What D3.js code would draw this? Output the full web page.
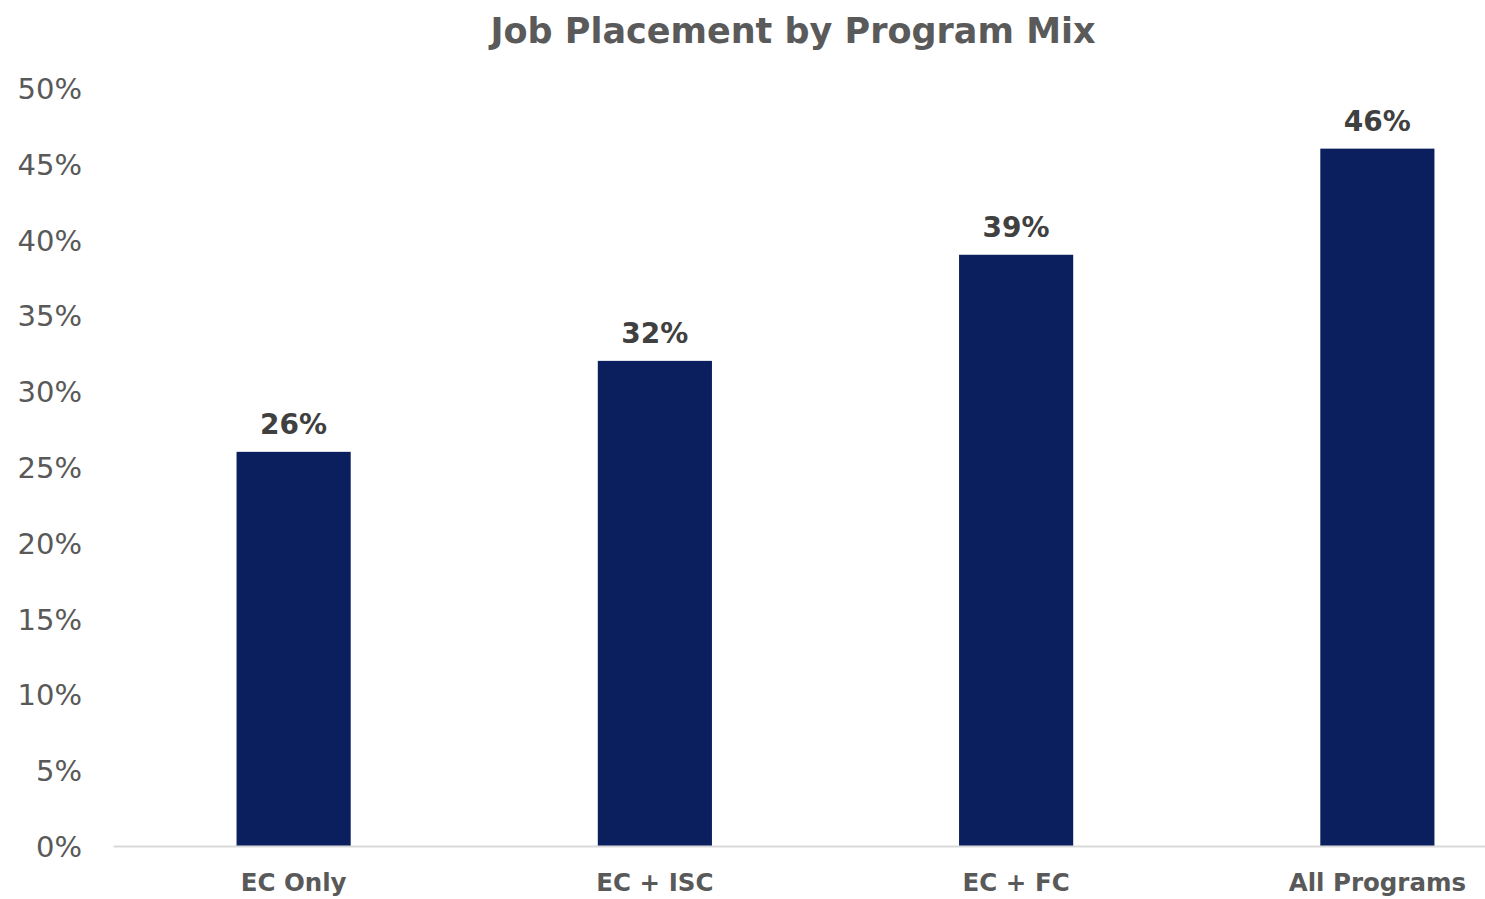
<!DOCTYPE html>
<html>
<head>
<meta charset="utf-8">
<script src="https://cdn.jsdelivr.net/npm/d3@7"></script>
<style>
  body { margin: 0; background: #fff; }
  text { font-family: "DejaVu Sans", Verdana, sans-serif; }
</style>
</head>
<body>
<div class="chart"></div>
<script>
const categories = ['EC Only', 'EC + ISC', 'EC + FC', 'All Programs']
const placement = [0.26, 0.32, 0.39, 0.46]
const yTicks = [0, 0.05, 0.10, 0.15, 0.20, 0.25, 0.30, 0.35, 0.40, 0.45, 0.50]

const data = categories.map((c, i) => ({ program: c, value: placement[i] }))

const width = 1485
const height = 899
const margin = { top: 88, right: -73, bottom: 53, left: 113 }

const svg = d3.select('.chart')
  .append('svg')
  .attr('width', width)
  .attr('height', height)

// Scales.
const xScale = d3.scaleBand()
  .domain(categories)
  .range([margin.left, width - margin.right])
  .paddingInner(0.684)
  .paddingOuter(0.342)

const yScale = d3.scaleLinear()
  .domain([0, 0.5])
  .range([height - margin.bottom, margin.top])

// Title.
svg.append('text')
  .attr('x', 793)
  .attr('y', 43)
  .attr('text-anchor', 'middle')
  .style('font-size', '35px')
  .style('font-weight', 'bold')
  .style('fill', '#5a5a5a')
  .text('Job Placement by Program Mix')

// Y axis labels.
const yAxis = d3.axisLeft(yScale)
  .tickValues(yTicks)
  .tickFormat(d3.format('.0%'))
  .tickSize(0)
  .tickPadding(31)

svg.append('g')
  .attr('transform', `translate(${margin.left}, 0)`)
  .call(yAxis)
  .call(g => g.select('.domain').remove())
  .call(g => g.selectAll('text')
    .attr('dy', '0.36em')
    .style('font-size', '29px')
    .style('fill', '#595959'))

// Bars.
svg.selectAll('.bar')
  .data(data)
  .enter()
  .append('rect')
  .attr('class', 'bar')
  .attr('x', d => xScale(d.program))
  .attr('y', d => yScale(d.value))
  .attr('width', xScale.bandwidth())
  .attr('height', d => yScale(0) - yScale(d.value))
  .style('fill', '#0b1f5e')

// X axis.
const xAxis = d3.axisBottom(xScale).tickSize(0).tickPadding(28)

svg.append('g')
  .attr('transform', `translate(0, ${yScale(0)})`)
  .call(xAxis)
  .call(g => g.select('.domain')
    .attr('stroke', '#d9d9d9')
    .attr('stroke-width', 2))
  .call(g => g.selectAll('text')
    .style('font-size', '24.5px')
    .style('font-weight', 'bold')
    .style('fill', '#595959'))

// Value labels.
svg.selectAll('.label')
  .data(data)
  .enter()
  .append('text')
  .attr('class', 'label')
  .attr('x', d => xScale(d.program) + xScale.bandwidth() / 2)
  .attr('y', d => yScale(d.value) - 18)
  .attr('text-anchor', 'middle')
  .style('font-size', '28px')
  .style('font-weight', 'bold')
  .style('fill', '#404040')
  .text(d => d3.format('.0%')(d.value))
</script>
</body>
</html>
